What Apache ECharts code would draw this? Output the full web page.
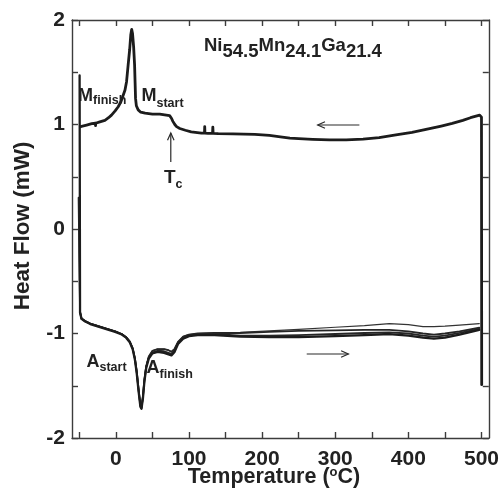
<!DOCTYPE html>
<html>
<head>
<meta charset="utf-8">
<script src="https://cdn.jsdelivr.net/npm/echarts@6/dist/echarts.min.js"></script>
<style>
  html, body { margin: 0; padding: 0; background: #fff; }
  #chart { width: 502px; height: 495px; }
</style>
</head>
<body>
<div id="chart"></div>
<script>
const FONT = '"Liberation Sans", Arial, Helvetica, sans-serif';
const INK = '#1c1c1c';
const AXIS = '#3c3c3c';

// Axis ticks and labels
const xTickValues = [-50, 0, 50, 100, 150, 200, 250, 300, 350, 400, 450, 500];
const xLabelValues = [0, 100, 200, 300, 400, 500];
const yTickValues = [-2, -1.5, -1, -0.5, 0, 0.5, 1, 1.5, 2];
const yLabelValues = [-2, -1, 0, 1, 2];

// Cooling run, 500 °C down to -50 °C: [temperature °C, heat flow mW]
const coolingRun = [
  [500.3, -1.49], [500, 1.07], [497.5, 1.09], [495, 1.085], [485, 1.065],
  [474.5, 1.04], [460, 1.01], [445, 0.985], [429, 0.96], [405, 0.925],
  [383, 0.90], [360, 0.875], [338, 0.86], [315, 0.852], [292, 0.852],
  [269, 0.858], [250, 0.865], [238, 0.87], [225, 0.882], [210, 0.895],
  [190, 0.905], [160, 0.91], [140, 0.912], [133, 0.915], [132.6, 0.975],
  [132.2, 0.915], [126, 0.915], [121.8, 0.918], [121.5, 0.98], [121.2, 0.92],
  [117, 0.918], [103, 0.93], [95, 0.945], [87.4, 0.962], [83, 0.98],
  [80.6, 1.0], [78, 1.03], [76, 1.06], [73.5, 1.085], [71, 1.097],
  [60, 1.10], [50, 1.10], [40, 1.108], [34, 1.118], [30.5, 1.14],
  [28, 1.18], [26.9, 1.25], [26.3, 1.40], [25.6, 1.57], [24.3, 1.74],
  [22.8, 1.87], [21.6, 1.91], [20.4, 1.86], [18.9, 1.72], [16.8, 1.57],
  [14.6, 1.41], [12.5, 1.33], [10, 1.28], [7, 1.22], [3.2, 1.17],
  [-1, 1.13], [-6, 1.09], [-10, 1.065], [-15, 1.04], [-22, 1.025],
  [-27.6, 1.012], [-27.8, 0.99], [-28.0, 1.012], [-33, 1.008], [-40, 0.995],
  [-47, 0.982], [-48.5, 0.978]
];

// Heating runs, -50 °C up to 500 °C (shared temperature grid)
const heatingTemps = [
  -49, -47, -42, -35, -24, -12, -1, 8, 14, 19,
  23, 26, 28.5, 31, 33.5, 35, 37, 39, 41.5, 45,
  50, 57, 66, 72, 76, 80, 85, 92, 100, 112,
  135, 170, 210, 250, 300, 340, 374, 400, 420, 435,
  450, 470, 497
];
const heatingRunA = [
  -0.80, -0.86, -0.885, -0.91, -0.935, -0.96, -0.985, -1.01, -1.04, -1.085,
  -1.15, -1.25, -1.38, -1.55, -1.70, -1.72, -1.62, -1.46, -1.33, -1.24,
  -1.19, -1.175, -1.185, -1.20, -1.21, -1.18, -1.10, -1.05, -1.025, -1.015,
  -1.015, -1.03, -1.035, -1.035, -1.025, -1.015, -1.005, -1.02, -1.04, -1.05,
  -1.04, -1.01, -0.965
];
const heatingRunB = [
  -0.80, -0.858, -0.882, -0.905, -0.93, -0.955, -0.98, -1.005, -1.035, -1.08,
  -1.145, -1.24, -1.37, -1.54, -1.69, -1.715, -1.61, -1.45, -1.32, -1.23,
  -1.18, -1.165, -1.17, -1.185, -1.195, -1.17, -1.09, -1.04, -1.02, -1.01,
  -1.005, -1.02, -1.02, -1.015, -1.005, -0.995, -0.99, -1.0, -1.02, -1.03,
  -1.02, -0.995, -0.955
];
const heatingRunC = [
  -0.79, -0.855, -0.88, -0.905, -0.93, -0.955, -0.98, -1.005, -1.035, -1.075,
  -1.14, -1.235, -1.36, -1.53, -1.68, -1.71, -1.60, -1.44, -1.31, -1.22,
  -1.165, -1.15, -1.15, -1.16, -1.175, -1.15, -1.08, -1.03, -1.01, -1.0,
  -0.995, -0.995, -0.985, -0.975, -0.97, -0.965, -0.965, -0.98, -1.0, -1.01,
  -1.0, -0.98, -0.945
];
const heatingRunD = [
  -0.79, -0.855, -0.88, -0.905, -0.93, -0.955, -0.98, -1.005, -1.035, -1.075,
  -1.14, -1.235, -1.36, -1.53, -1.68, -1.71, -1.60, -1.44, -1.31, -1.22,
  -1.165, -1.15, -1.15, -1.16, -1.175, -1.15, -1.08, -1.03, -1.01, -1.0,
  -0.995, -0.99, -0.975, -0.96, -0.94, -0.925, -0.905, -0.915, -0.935, -0.935,
  -0.93, -0.92, -0.905
];
// Switch-over transients at the start of each heating run
const heatingStartA = [[-49.6, 1.47]];
const heatingStartB = [[-51, 0.30]];
const heatingStartC = [[-50.3, 0.15]];
const heatingStartD = [[-49.8, -0.20]];

function heatingData(start, values) {
  return start.concat(heatingTemps.map((t, i) => [t, values[i]]));
}

const chart = echarts.init(document.getElementById('chart'), null, { renderer: 'canvas' });

function lineSeries(data, width, color) {
  return {
    type: 'line', data: data, showSymbol: false, symbol: 'none',
    lineStyle: { width: width, color: color, join: 'round', cap: 'round' },
    xAxisIndex: 0, yAxisIndex: 0, animation: false, silent: true
  };
}

const axisLineStyle = { color: AXIS, width: 1.4 };
const labelStyle = { fontFamily: FONT, fontWeight: 'bold', fontSize: 21, color: '#222' };

chart.setOption({
  animation: false,
  backgroundColor: '#fff',
  grid: { left: 72, top: 20, right: 13, bottom: 57 },
  xAxis: [
    {
      type: 'value', position: 'bottom', min: -60, max: 510,
      axisLine: { show: true, onZero: false, lineStyle: axisLineStyle },
      axisTick: { show: true, inside: true, length: 6, customValues: xTickValues, lineStyle: axisLineStyle },
      axisLabel: Object.assign({ customValues: xLabelValues, margin: 11 }, labelStyle),
      splitLine: { show: false }
    },
    {
      type: 'value', position: 'top', min: -60, max: 510,
      axisLine: { show: true, onZero: false, lineStyle: axisLineStyle },
      axisTick: { show: true, inside: true, length: 6, customValues: xTickValues, lineStyle: axisLineStyle },
      axisLabel: { show: false },
      splitLine: { show: false }
    }
  ],
  yAxis: [
    {
      type: 'value', position: 'left', min: -2, max: 2,
      axisLine: { show: true, onZero: false, lineStyle: axisLineStyle },
      axisTick: { show: true, inside: true, length: 6, customValues: yTickValues, lineStyle: axisLineStyle },
      axisLabel: Object.assign({ customValues: yLabelValues, margin: 7 }, labelStyle),
      splitLine: { show: false }
    },
    {
      type: 'value', position: 'right', min: -2, max: 2,
      axisLine: { show: true, onZero: false, lineStyle: axisLineStyle },
      axisTick: { show: true, inside: true, length: 6, customValues: yTickValues, lineStyle: axisLineStyle },
      axisLabel: { show: false },
      splitLine: { show: false }
    }
  ],
  series: [
    lineSeries(heatingData(heatingStartD, heatingRunD), 1.2, '#333'),
    lineSeries(heatingData(heatingStartC, heatingRunC), 1.8, '#262626'),
    lineSeries(heatingData(heatingStartB, heatingRunB), 1.8, '#262626'),
    lineSeries(heatingData(heatingStartA, heatingRunA), 2.3, INK),
    lineSeries(coolingRun, 2.8, INK)
  ]
});

// ---- annotations ----
const measureCtx = document.createElement('canvas').getContext('2d');
function textWidth(text, size) {
  measureCtx.font = 'bold ' + size + 'px ' + FONT;
  return measureCtx.measureText(text).width;
}
// parts: [text, fontSize, baseline shift]; positioned on a common baseline
function textRun(parts, x, baseline, align) {
  const widths = parts.map(p => textWidth(p[0], p[1]));
  const total = widths.reduce((a, b) => a + b, 0);
  let cx = align === 'center' ? x - total / 2 : x;
  const out = [];
  parts.forEach((p, i) => {
    out.push({
      type: 'text', x: cx, y: baseline + p[2] - 0.345 * p[1], silent: true, z: 50,
      style: {
        text: p[0], fontFamily: FONT, fontWeight: 'bold', fontSize: p[1],
        fill: '#222', align: 'left', verticalAlign: 'middle'
      }
    });
    cx += widths[i];
  });
  return out;
}

function px(t, h) { return chart.convertToPixel({ gridIndex: 0 }, [t, h]); }
function arrow(from, to) {
  const a = px(from[0], from[1]);
  const b = px(to[0], to[1]);
  const ang = Math.atan2(b[1] - a[1], b[0] - a[0]);
  const len = 8, spread = 0.42;
  const l = [b[0] - len * Math.cos(ang - spread), b[1] - len * Math.sin(ang - spread)];
  const r = [b[0] - len * Math.cos(ang + spread), b[1] - len * Math.sin(ang + spread)];
  const st = { stroke: '#2a2a2a', lineWidth: 1.2, fill: null };
  return [
    { type: 'polyline', silent: true, z: 50, shape: { points: [a, b] }, style: st },
    { type: 'polyline', silent: true, z: 50, shape: { points: [l, b, r] }, style: st }
  ];
}

const graphics = [].concat(
  textRun([['Ni', 18.5, 0], ['54.5', 18.5, 6], ['Mn', 18.5, 0], ['24.1', 18.5, 6], ['Ga', 18.5, 0], ['21.4', 18.5, 6]], 204, 52),
  textRun([['M', 18, 0], ['finish', 12.5, 3]], 78, 102),
  textRun([['M', 18, 0], ['start', 12.5, 5.5]], 141.5, 102),
  textRun([['T', 19, 0], ['c', 12.5, 5]], 164, 184),
  textRun([['A', 18, 0], ['start', 12.5, 4]], 86.5, 368),
  textRun([['A', 18, 0], ['finish', 12.5, 4.5]], 146.5, 374.5),
  textRun([['Temperature (', 21.5, 0], ['o', 13, -7], ['C)', 21.5, 0]], 274, 484, 'center'),
  [{
    type: 'text', x: 22.5, y: 226, rotation: Math.PI / 2, silent: true, z: 50,
    style: {
      text: 'Heat Flow (mW)', fontFamily: FONT, fontWeight: 'bold', fontSize: 22.5,
      fill: '#222', align: 'center', verticalAlign: 'middle'
    }
  }],
  arrow([75.1, 0.641], [75.1, 0.919]),
  arrow([333, 0.995], [276, 0.995]),
  arrow([261, -1.196], [318, -1.196])
);
chart.setOption({ graphic: graphics });
</script>
</body>
</html>
